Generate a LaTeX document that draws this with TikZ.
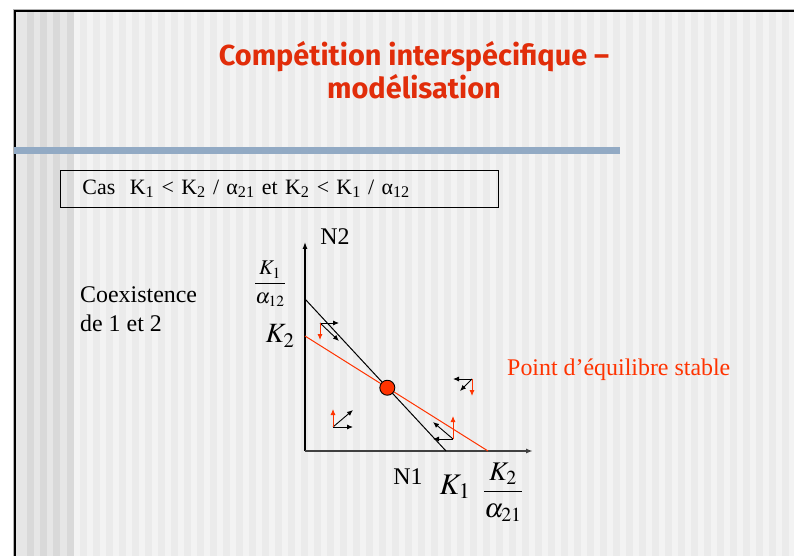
\documentclass[tikz,border=0pt]{standalone}
\usepackage{amsmath}
\usepackage{mathptmx}
\usepackage{fontspec}
\setmainfont{Liberation Serif}
\newfontfamily\titlefont{Fira Sans}
\usetikzlibrary{arrows.meta}

\definecolor{titlered}{RGB}{225,45,10}
\definecolor{eqred}{RGB}{255,51,0}
\definecolor{barblue}{RGB}{146,170,196}
\definecolor{stripeA}{RGB}{243,243,243}
\definecolor{stripeB}{RGB}{235,235,235}
\definecolor{stripeC}{RGB}{230,230,230}
\definecolor{stripeD}{RGB}{217,217,217}

\tikzset{
  axis/.style={line width=1.2bp,-{Latex[length=7bp,width=5bp]}},
  iso/.style={line width=1bp},
  vec/.style={line width=0.9bp,-{Latex[length=6bp,width=5bp]}},
  rvec/.style={vec,eqred},
  txt/.style={font=\fontsize{24}{30}\selectfont,inner sep=0pt},
}

\begin{document}
\begin{tikzpicture}[x=1bp,y=-1bp]
\useasboundingbox (0,0) rectangle (794,556);
\fill[white] (0,0) rectangle (794,556);

% fond raye
\fill[stripeA] (14,10) rectangle (794,556);
\foreach \x in {80,93,...,790}
  \fill[stripeB] (\x,10) rectangle ++(6.5,546);
\fill[stripeC] (14,10) rectangle (73,556);
\foreach \x in {27,40,53,67}
  \fill[stripeD] (\x,10) rectangle ++(6.5,546);

% cadre
\draw[gray!60,line width=1bp] (13,556) |- (794,9.3);
\draw[line width=2.5bp] (14.8,556) |- (794,11.2);
\fill[barblue] (14,147) rectangle (620,154);

% titre
\node[font=\titlefont\bfseries\fontsize{29}{33}\selectfont,text=titlered,align=center,inner sep=0pt] (titre) at (414,70) {Compétition interspécifique –\\modélisation};

\node[draw,line width=0.8bp,anchor=west,inner xsep=22bp,inner ysep=0pt,minimum height=37bp,text width=394bp,align=left,font=\fontsize{22}{24}\selectfont] (cas) at (60,188.5) {Cas~ K\textsubscript{1} < K\textsubscript{2} / α\textsubscript{21} et K\textsubscript{2} < K\textsubscript{1} / α\textsubscript{12}};

% axes
\coordinate (O) at (305,451);
\coordinate (ytop) at (305,242);
\coordinate (xend) at (533,451);
\draw[axis] (O) -- (ytop);
\draw[axis,black!75,line width=1.6bp] (O) -- (xend);

% isoclines
\coordinate (K1a) at (305,299);
\coordinate (K1b) at (446,451);
\coordinate (K2a) at (305,336);
\coordinate (K2b) at (488,451);
\draw[iso] (K1a) -- (K1b);
\draw[iso,eqred] (K2a) -- (K2b);
\node[circle,draw,line width=0.9bp,fill=eqred,minimum size=15bp,inner sep=0pt] (eq) at (intersection of K1a--K1b and K2a--K2b) {};

% vecteurs
\foreach \px/\py/\hx/\dx/\dy/\vy in {320/323/19/19/18/17, 333/427/20/20/-17/-18, 472/379/-19/-12/12/17, 453/439/-20/-20/-17/-23}{
  \coordinate (f) at (\px,\py);
  \draw[vec] (f) -- ++(\hx,0);
  \draw[vec] (f) -- ++(\dx,\dy);
  \draw[rvec] (f) -- ++(0,\vy);
}

% etiquettes
\node[txt] (n2) at (335,237) {N2};
\node[txt] (n1) at (408,477) {N1};
\node[font=\fontsize{21}{21}\selectfont,inner sep=0pt] (k1a12) at (270,284) {$\dfrac{K_1}{\alpha_{12}}$};
\node[font=\fontsize{28}{28}\selectfont,inner sep=0pt] (k2) at (280,336) {$K_2$};
\node[font=\fontsize{30}{30}\selectfont,inner sep=0pt] (k1) at (455,487) {$K_1$};
\node[font=\fontsize{27}{27}\selectfont,inner sep=0pt] (k2a21) at (503,492) {$\dfrac{K_2}{\alpha_{21}}$};
\node[txt,align=left,anchor=north west] (coex) at (80,286) {Coexistence\\de 1 et 2};
\node[txt,text=eqred,anchor=west] (pteq) at (507,370) {Point d'équilibre stable};
\end{tikzpicture}
\end{document}
